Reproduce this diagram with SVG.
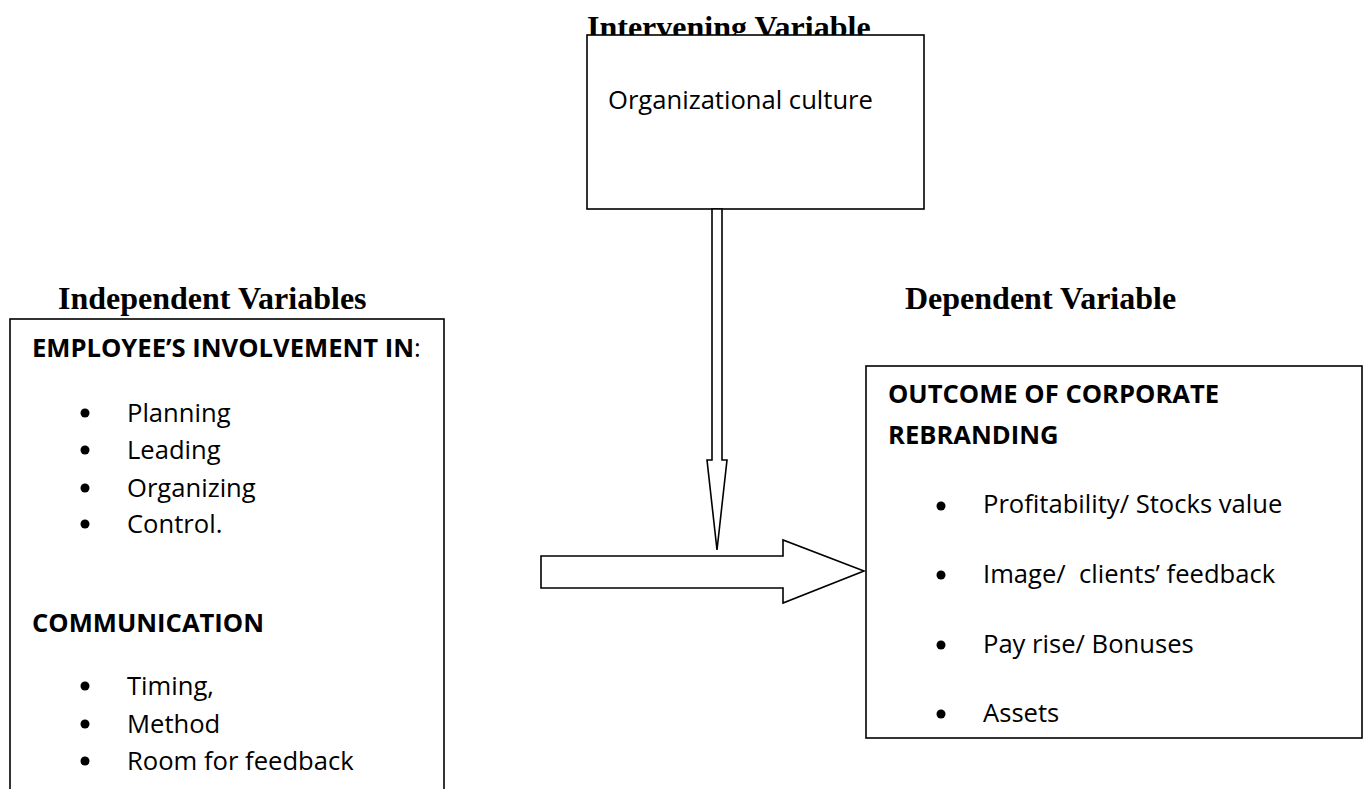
<svg xmlns="http://www.w3.org/2000/svg" width="1364" height="789" viewBox="0 0 1364 789">
<style>
.box{fill:#fff;stroke:#000;stroke-width:1.6}
.arrow{fill:#fff;stroke:#000;stroke-width:1.6;stroke-linejoin:miter}
.title{font-family:"Liberation Serif","Times New Roman",serif;font-weight:bold;font-size:32px;fill:#000}
.t{font-family:"Open Sans","Liberation Sans",Arial,sans-serif;font-size:25.6px;fill:#000;white-space:pre}
.b{font-weight:bold}
.dot{fill:#000}
</style>
<rect width="1364" height="789" fill="#fff"/>
<g id="intervening">
<text class="title" x="587" y="38">Intervening Variable</text>
<rect class="box" x="587" y="35" width="337" height="174"/>
<text class="t" x="608" y="109">Organizational culture</text>
</g>
<g id="independent">
<text class="title" x="58" y="309">Independent Variables</text>
<rect class="box" x="10" y="319" width="434" height="480"/>
<text class="t" x="32" y="357"><tspan class="b">EMPLOYEE’S INVOLVEMENT IN</tspan>:</text>
<circle class="dot" cx="85" cy="413" r="4.5"/><text class="t" x="127" y="422">Planning</text>
<circle class="dot" cx="85" cy="450" r="4.5"/><text class="t" x="127" y="459">Leading</text>
<circle class="dot" cx="85" cy="488" r="4.5"/><text class="t" x="127" y="497">Organizing</text>
<circle class="dot" cx="85" cy="524" r="4.5"/><text class="t" x="127" y="533">Control.</text>
<text class="t b" x="32" y="632">COMMUNICATION</text>
<circle class="dot" cx="85" cy="686" r="4.5"/><text class="t" x="127" y="695">Timing,</text>
<circle class="dot" cx="85" cy="724" r="4.5"/><text class="t" x="127" y="733">Method</text>
<circle class="dot" cx="85" cy="761" r="4.5"/><text class="t" x="127" y="770">Room for feedback</text>
</g>
<g id="dependent">
<text class="title" x="905" y="309">Dependent Variable</text>
<rect class="box" x="866" y="366" width="496" height="372"/>
<text class="t b" x="888" y="403">OUTCOME OF CORPORATE</text>
<text class="t b" x="888" y="444">REBRANDING</text>
<circle class="dot" cx="941" cy="506" r="4.5"/><text class="t" x="983" y="513">Profitability/ Stocks value</text>
<circle class="dot" cx="941" cy="575" r="4.5"/><text class="t" x="983" y="583">Image/  clients’ feedback</text>
<circle class="dot" cx="941" cy="645" r="4.5"/><text class="t" x="983" y="653">Pay rise/ Bonuses</text>
<circle class="dot" cx="941" cy="714" r="4.5"/><text class="t" x="983" y="722">Assets</text>
</g>
<g id="connectors">
<polygon class="arrow" points="712,209 722,209 722,460 727,460 717,550 707,460 712,460"/>
<polygon class="arrow" points="541,556 783,556 783,540 864,571 783,603 783,588 541,588"/>
</g>
</svg>
